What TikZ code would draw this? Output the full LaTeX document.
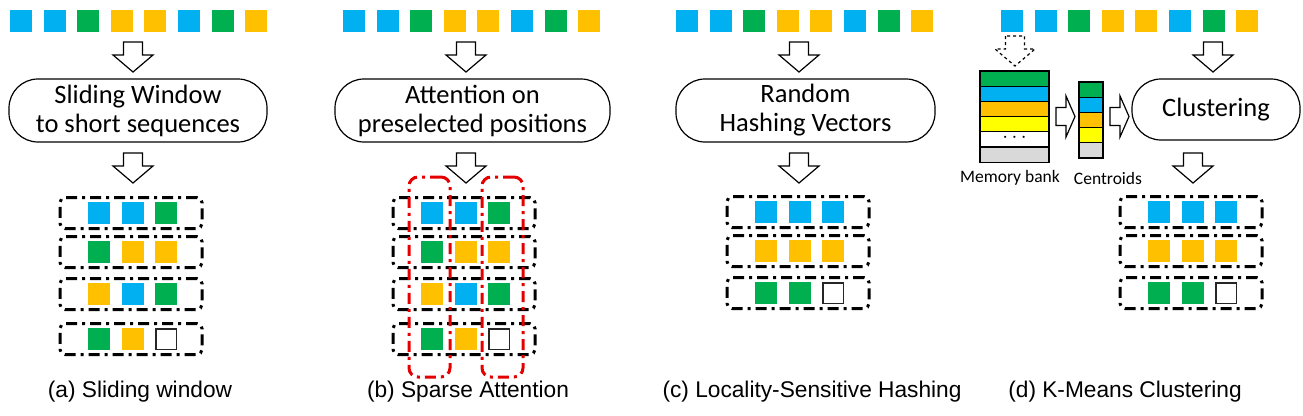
\documentclass[tikz,border=0pt]{standalone}
\usepackage{fontspec}
\setmainfont{Carlito}
\newfontfamily\capfont{Liberation Sans}
\definecolor{cblue}{RGB}{0,176,240}
\definecolor{cgreen}{RGB}{0,176,80}
\definecolor{cgold}{RGB}{255,192,0}
\definecolor{cyel}{RGB}{255,255,0}
\definecolor{cgray}{RGB}{217,217,217}
\definecolor{cred}{RGB}{228,0,0}
\begin{document}
\begin{tikzpicture}[x=1pt,y=-1pt,
  sq/.style={minimum size=22pt,inner sep=0pt,draw=none},
  wsq/.style={minimum size=20.5pt,inner sep=0pt,draw=black!85,line width=1.5pt,fill=white},
  procbox/.style={draw,line width=1.2pt,rounded corners=29pt,minimum height=63pt,align=center,
    font=\fontsize{26.5}{29}\selectfont,inner sep=0pt},
  rowbox/.style={draw,line width=3pt,dash pattern=on 11pt off 5pt on 3pt off 5pt,
    rounded corners=5pt,minimum width=142pt,minimum height=31pt,inner sep=0pt},
  redbox/.style={draw=cred,line width=3pt,dash pattern=on 11pt off 5pt on 3pt off 5pt,
    rounded corners=9pt,minimum width=41pt,minimum height=200pt,inner sep=0pt},
  blockarrow/.style={draw,line width=1.2pt,fill=white,line join=miter},
  caption/.style={font=\capfont\fontsize{22.7}{26}\selectfont,inner sep=0pt},
  small/.style={font=\fontsize{17.5}{20}\selectfont,inner sep=0pt},
  band/.style={draw,line width=1.2pt,inner sep=0pt},
  pics/blockdown/.style={code={
    \path[blockarrow,#1] (-9.5,0) -- (-9.5,13) -- (-20,13) -- (0,30) -- (20,13) -- (9.5,13) -- (9.5,0) -- cycle;}},
  pics/blockright/.style={code={
    \path[blockarrow] (0,-9) -- (10,-9) -- (10,-20.5) -- (19,0) -- (10,20.5) -- (10,9) -- (0,9) -- cycle;}}
]
\useasboundingbox (0,0) rectangle (1303,415);

% top input sequences
\foreach \p/\ox in {a/0,b/333,c/666,d/991}{
  \foreach \c [count=\i from 0] in {cblue,cblue,cgreen,cgold,cgold,cblue,cgreen,cgold}{
    \node[sq,fill=\c] (\p-s\i) at (\ox+21+33.6*\i,21) {};
  }
}

% processing boxes
\node[procbox,minimum width=258pt] (a-box) at (138,110.5) {Sliding Window\\to short sequences};
\node[procbox,minimum width=275pt] (b-box) at (472.5,110.5) {Attention on\\preselected positions};
\node[procbox,minimum width=259pt] (c-box) at (805.5,110.5) {Random\\Hashing Vectors};
\node[procbox,minimum width=168pt,minimum height=61pt] (d-box) at (1216,109.5) {Clustering};

% block arrows
\pic at (133,42) {blockdown};
\pic at (133,153) {blockdown};
\pic at (466,42) {blockdown};
\pic at (466,153) {blockdown};
\pic at (799,42) {blockdown};
\pic at (799,153) {blockdown};
\pic at (1213,42) {blockdown};
\pic at (1193,153) {blockdown};
\pic at (1015,36) {blockdown={dashed}};

% window rows: panels a and b
\foreach \p/\ox in {a/0,b/333}{
  \foreach \r/\y/\ca/\cb/\cc in {1/213/cblue/cblue/cgreen,2/252/cgreen/cgold/cgold,3/294/cgold/cblue/cgreen}{
    \node[rowbox] (\p-r\r) at (\ox+131,\y) {};
    \node[sq,fill=\ca] (\p-r\r-1) at (\ox+99,\y) {};
    \node[sq,fill=\cb] (\p-r\r-2) at (\ox+132.5,\y) {};
    \node[sq,fill=\cc] (\p-r\r-3) at (\ox+166,\y) {};
  }
  \node[rowbox] (\p-r4) at (\ox+131,339) {};
  \node[sq,fill=cgreen] (\p-r4-1) at (\ox+99,339) {};
  \node[sq,fill=cgold] (\p-r4-2) at (\ox+132.5,339) {};
  \node[wsq] (\p-r4-3) at (\ox+166,339) {};
}

% rows: panels c and d
\foreach \p/\ox in {c/667,d/1060}{
  \foreach \r/\y/\ca in {1/212/cblue,2/251/cgold}{
    \node[rowbox] (\p-r\r) at (\ox+131,\y) {};
    \node[sq,fill=\ca] (\p-r\r-1) at (\ox+99,\y) {};
    \node[sq,fill=\ca] (\p-r\r-2) at (\ox+132.5,\y) {};
    \node[sq,fill=\ca] (\p-r\r-3) at (\ox+166,\y) {};
  }
  \node[rowbox] (\p-r3) at (\ox+131,293) {};
  \node[sq,fill=cgreen] (\p-r3-1) at (\ox+99,293) {};
  \node[sq,fill=cgreen] (\p-r3-2) at (\ox+132.5,293) {};
  \node[wsq] (\p-r3-3) at (\ox+166,293) {};
}

% sparse attention column windows
\node[redbox] (b-c1) at (429.5,277) {};
\node[redbox] (b-c3) at (502.5,277) {};

% memory bank
\foreach \c/\t [count=\i from 0] in {cgreen/,cblue/,cgold/,cyel/,white/{\fontsize{20}{20}\selectfont\raisebox{0.3ex}{$\cdots$}},cgray/}{
  \node[band,fill=\c,minimum width=69pt,minimum height=15.2pt] (mb\i) at (1014.5,78.6+15.2*\i) {\t};
}
\node[small] (mblab) at (1010,178) {Memory bank};
% centroids
\foreach \c [count=\i from 0] in {cgreen,cblue,cgold,cyel,cgray}{
  \node[band,fill=\c,minimum width=24pt,minimum height=15.2pt] (ce\i) at (1091,89.6+15.2*\i) {};
}
\node[small] (celab) at (1108,178) {Centroids};
\pic at (1056,116.5) {blockright};
\pic at (1110,116.5) {blockright};

% captions
\node[caption] (capa) at (140,392) {(a) Sliding window};
\node[caption] (capb) at (468,392) {(b) Sparse Attention};
\node[caption] (capc) at (812,392) {(c) Locality-Sensitive Hashing};
\node[caption] (capd) at (1125,392) {(d) K-Means Clustering};
\end{tikzpicture}
\end{document}
